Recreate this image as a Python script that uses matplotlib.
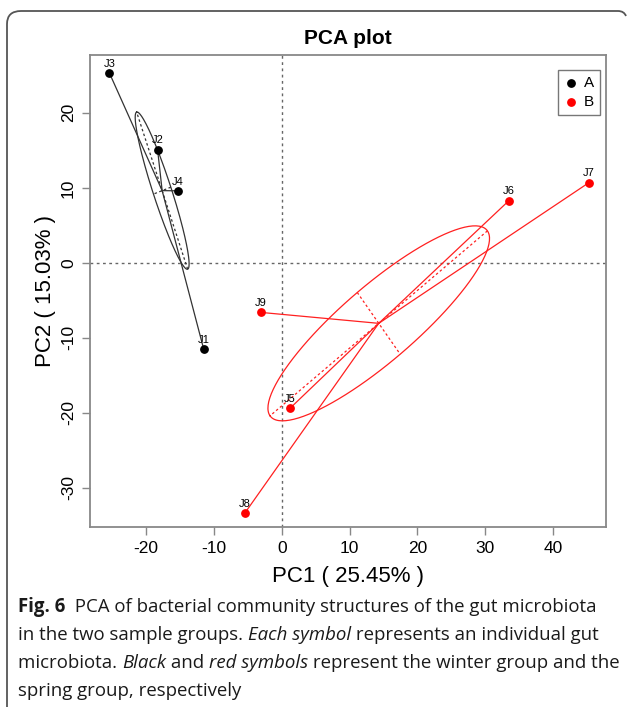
import numpy as np
import matplotlib
matplotlib.use("Agg")
from matplotlib import pyplot as plt
from matplotlib.path import Path
from matplotlib.patches import PathPatch

# 样本坐标 (PC1, PC2)
names_a = ["J1", "J2", "J3", "J4"]
pc1_a = [-11.5, -18.3, -25.4, -15.3]
pc2_a = [-11.5, 15.1, 25.3, 9.6]

names_b = ["J5", "J6", "J7", "J8", "J9"]
pc1_b = [1.2, 33.5, 45.3, -5.4, -3.1]
pc2_b = [-19.4, 8.3, 10.7, -33.3, -6.6]

groups = ["A", "B"]
xticks = [-20, -10, 0, 10, 20, 30, 40]
yticks = [-30, -20, -10, 0, 10, 20]

plt.rcParams['font.family'] = ['Liberation Sans', 'DejaVu Sans']
plt.rcParams['axes.unicode_minus'] = False

fig = plt.figure(figsize=(6.27, 7.07), dpi=100)
W, H = 627, 707

# 背景层: 外框和图注
bg = fig.add_axes([0, 0, 1, 1])
bg.set_xlim(0, W)
bg.set_ylim(H, 0)
bg.axis('off')

verts = [(7, 707), (7, 24), (7, 11), (21, 11), (618, 11), (624, 11), (626, 16)]
codes = [Path.MOVETO, Path.LINETO, Path.CURVE3, Path.CURVE3, Path.LINETO, Path.CURVE3, Path.CURVE3]
bg.add_patch(PathPatch(Path(verts, codes), fill=False, edgecolor='#555555', lw=1.3))

ax = fig.add_axes([90 / W, 1 - 527 / H, 516 / W, 472 / H])


def star_ellipse(x, y, color, coeff=0.78):
    x = np.array(x)
    y = np.array(y)
    mx, my = x.mean(), y.mean()
    # 星形连线
    for xi, yi in zip(x, y):
        ax.plot([mx, xi], [my, yi], color=color, lw=0.9, zorder=2)
    # 椭圆 (总体协方差)
    c = np.cov(np.vstack([x, y]), bias=True)
    val, vec = np.linalg.eigh(c)
    ha = coeff * np.sqrt(val)
    t = np.linspace(0, 2 * np.pi, 200)
    ex = mx + ha[1] * np.cos(t) * vec[0, 1] + ha[0] * np.sin(t) * vec[0, 0]
    ey = my + ha[1] * np.cos(t) * vec[1, 1] + ha[0] * np.sin(t) * vec[1, 0]
    ax.plot(ex, ey, color=color, lw=0.9, zorder=2)
    # 椭圆的轴
    for k in range(2):
        ax.plot([mx - ha[k] * vec[0, k], mx + ha[k] * vec[0, k]],
                [my - ha[k] * vec[1, k], my + ha[k] * vec[1, k]],
                color=color, lw=0.9, ls=(0, (2, 2)), zorder=2)


ax.axhline(0, color='#666666', lw=1.0, ls=(0, (2, 2.5)), zorder=1)
ax.axvline(0, color='#666666', lw=1.0, ls=(0, (2, 2.5)), zorder=1)

star_ellipse(pc1_a, pc2_a, '#333333')
star_ellipse(pc1_b, pc2_b, '#ff2020')

ax.scatter(pc1_a, pc2_a, s=28, color='black', zorder=3, label=groups[0])
ax.scatter(pc1_b, pc2_b, s=28, color='#ff0000', zorder=3, label=groups[1])

for n, xi, yi in zip(names_a + names_b, pc1_a + pc1_b, pc2_a + pc2_b):
    ax.annotate(n, (xi, yi), xytext=(0, 3), textcoords='offset points',
                ha='center', va='bottom', fontsize=8, zorder=4)

ax.set_xlim(-28.26, 47.8)
ax.set_ylim(-35.2, 27.7)
ax.set_xticks(xticks)
ax.set_xticklabels([str(v) for v in xticks])
ax.set_yticks(yticks)
ax.set_yticklabels([str(v) for v in yticks], rotation=90, va='center')
ax.tick_params(direction='out', length=6, width=1, color='#888888',
               labelsize=12.5, pad=4)
for s in ax.spines.values():
    s.set_color('#888888')
    s.set_linewidth(1.3)

ax.set_xlabel("PC1 ( 25.45% )", fontsize=16, labelpad=7)
ax.set_ylabel("PC2 ( 15.03% )", fontsize=16, labelpad=4)
ax.set_title("PCA plot", fontsize=15, fontweight='bold', pad=8)

leg = ax.legend(loc='upper right', bbox_to_anchor=(0.988, 0.968), fontsize=11,
                frameon=True, fancybox=False, handletextpad=0.3,
                handlelength=1.0, borderpad=0.4, labelspacing=0.3,
                borderaxespad=0)
leg.get_frame().set_edgecolor('#555555')
leg.get_frame().set_linewidth(1.0)

# 图注 (逐段排版)
cap_font = ['Open Sans', 'DejaVu Sans']
lines = [
    [("Fig. 6", 'bold', 'normal'), ("  PCA of bacterial community structures of the gut microbiota", 'normal', 'normal')],
    [("in the two sample groups. ", 'normal', 'normal'), ("Each symbol", 'normal', 'italic'),
     (" represents an individual gut", 'normal', 'normal')],
    [("microbiota. ", 'normal', 'normal'), ("Black", 'normal', 'italic'), (" and ", 'normal', 'normal'),
     ("red symbols", 'normal', 'italic'), (" represent the winter group and the", 'normal', 'normal')],
    [("spring group, respectively", 'normal', 'normal')],
]
ys = [607, 635, 663, 691]
fig.canvas.draw()
r = fig.canvas.get_renderer()
for parts, yy in zip(lines, ys):
    x0 = 18
    for txt, wt, st in parts:
        t = bg.text(x0, yy, txt, fontsize=13.4, family=cap_font, weight=wt,
                    style=st, va='center', ha='left', color='#1a1a1a')
        bb = t.get_window_extent(renderer=r)
        x0 += bb.width * W / fig.bbox.width

fig.savefig("out.png", dpi=100)
